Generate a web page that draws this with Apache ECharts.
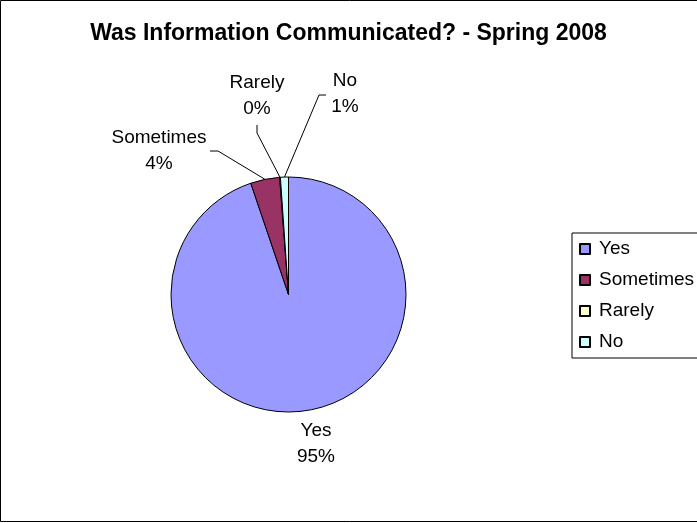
<!DOCTYPE html>
<html>
<head>
<meta charset="utf-8">
<script src="https://cdn.jsdelivr.net/npm/echarts@6/dist/echarts.min.js"></script>
<style>
  html, body { margin: 0; padding: 0; background: #fff; }
  #chart { width: 697px; height: 523px; }
</style>
</head>
<body>
<div id="chart"></div>
<script>
const categories = ['Yes', 'Sometimes', 'Rarely', 'No'];
const shares = [94.8, 4.0, 0.1, 1.1];
const colors = ['#9999FF', '#993366', '#FFFFCC', '#CCFFFF'];
const titleText = 'Was Information Communicated? - Spring 2008';

const font = "'Liberation Sans', Arial, sans-serif";

const data = categories.map((name, i) => ({
  name: name,
  value: shares[i],
  itemStyle: { color: colors[i] },
  labelLine: { show: i !== 0 },
}));

// excel puts the data labels by hand, copy that
const placeLabel = (params) => {
  const edge = params.labelLinePoints ? params.labelLinePoints[0] : null;
  switch (params.dataIndex) {
    case 0:
      return { x: 316, y: 444, align: 'center', verticalAlign: 'middle' };
    case 1:
      return {
        x: 159, y: 151, align: 'center', verticalAlign: 'middle',
        labelLinePoints: edge && [edge, [218, 151], [210, 151]],
      };
    case 2:
      return {
        x: 257, y: 96, align: 'center', verticalAlign: 'middle',
        labelLinePoints: edge && [edge, [257, 133], [257, 125]],
      };
    default:
      return {
        x: 345, y: 94, align: 'center', verticalAlign: 'middle',
        labelLinePoints: edge && [edge, [319, 95], [326, 95]],
      };
  }
};

const chart = echarts.init(document.getElementById('chart'));
chart.setOption({
  animation: false,
  backgroundColor: '#fff',
  graphic: [{
    type: 'rect',
    shape: { x: 0.5, y: 0.5, width: 720, height: 521 },
    style: { fill: 'none', stroke: '#000', lineWidth: 1 },
    silent: true,
  }],
  title: {
    text: titleText,
    left: 'center',
    top: 22,
    padding: 0,
    textStyle: {
      fontFamily: font,
      fontSize: 23,
      fontWeight: 'bold',
      color: '#000',
      lineHeight: 23,
    },
  },
  legend: {
    orient: 'vertical',
    left: 572,
    top: 233,
    padding: [5.5, 40, 5.5, 7],
    itemGap: 10,
    itemWidth: 10,
    itemHeight: 10,
    icon: 'rect',
    borderColor: '#000',
    borderWidth: 1,
    borderRadius: 0,
    backgroundColor: '#fff',
    textStyle: {
      fontFamily: font,
      fontSize: 19,
      color: '#000',
      lineHeight: 21,
      padding: [0, 0, 0, 4],
    },
    data: categories,
  },
  series: [{
    type: 'pie',
    center: [288.5, 294.5],
    radius: 117.5,
    startAngle: 90,
    clockwise: true,
    avoidLabelOverlap: false,
    minShowLabelAngle: 0,
    itemStyle: { borderColor: '#000', borderWidth: 1 },
    label: {
      show: true,
      position: 'outside',
      fontFamily: font,
      fontSize: 19,
      lineHeight: 25.5,
      color: '#000',
      formatter: (p) => p.name + '\n' + Math.round(p.percent) + '%',
    },
    labelLine: {
      show: true,
      length: 10,
      length2: 10,
      lineStyle: { color: '#000', width: 1 },
    },
    emphasis: { disabled: true },
    labelLayout: placeLabel,
    data: data,
  }],
});
</script>
</body>
</html>
